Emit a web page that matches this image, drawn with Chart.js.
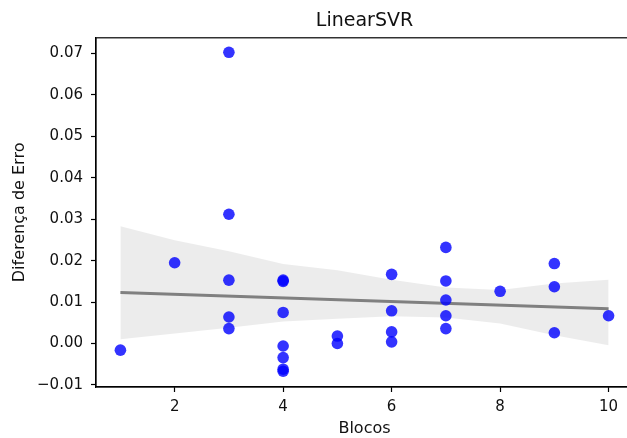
<!DOCTYPE html>
<html>
<head>
<meta charset="utf-8">
<script src="https://cdn.jsdelivr.net/npm/chart.js@4/dist/chart.umd.min.js"></script>
<style>
  html, body { margin: 0; padding: 0; background: #fff; overflow: hidden; }
  #wrap { width: 640px; height: 438px; }
</style>
</head>
<body>
<div id="wrap"><canvas id="chart" width="640" height="438"></canvas></div>
<script>
// Scatter data: number of blocks vs error difference
const blocks = [1, 2, 3, 3, 3, 3, 3, 4, 4, 4, 4, 4, 4, 4, 5, 5, 6, 6, 6, 6, 7, 7, 7, 7, 7, 8, 9, 9, 9, 10];
const errDiff = [-0.0016, 0.0195, 0.0703, 0.0312, 0.0153, 0.0064, 0.0036,
  0.0153, 0.0150, 0.0075, -0.0006, -0.0034, -0.0062, -0.0067,
  0.0018, 0.0000,
  0.0167, 0.0079, 0.0028, 0.0004,
  0.0232, 0.0151, 0.0105, 0.0067, 0.0036,
  0.0126,
  0.0193, 0.0137, 0.0026,
  0.0067];

// Regression line endpoints
const fitX = [1, 10];
const fitY = [0.0123, 0.0084];

// Confidence band
const bandX = [1, 2, 3, 4, 5, 6, 7, 8, 9, 10];
const bandUpper = [0.0283, 0.0249, 0.0223, 0.0192, 0.0177, 0.0154, 0.0135, 0.0129, 0.0145, 0.0154];
const bandLower = [0.0010, 0.0024, 0.0038, 0.0053, 0.0060, 0.0066, 0.0063, 0.0048, 0.0020, -0.0004];

// Tick labels
const xTicks = [2, 4, 6, 8, 10];
const yTicks = [-0.01, 0.00, 0.01, 0.02, 0.03, 0.04, 0.05, 0.06, 0.07];

const FONT = "'DejaVu Sans', sans-serif";
const TEXT = '#111';

const pairs = (xs, ys) => xs.map((x, i) => ({ x: x, y: ys[i] }));

// Draw the top/right spines like matplotlib
const frame = {
  id: 'frame',
  afterDatasetsDraw(chart) {
    const a = chart.chartArea;
    const ctx = chart.ctx;
    ctx.save();
    ctx.strokeStyle = '#000';
    ctx.lineWidth = 1.2;
    ctx.strokeRect(a.left, a.top, a.right - a.left, a.bottom - a.top);
    ctx.restore();
  }
};

new Chart(document.getElementById('chart'), {
  type: 'scatter',
  data: {
    datasets: [
      {
        label: 'Diferença de Erro',
        data: pairs(blocks, errDiff),
        backgroundColor: 'rgba(0, 0, 255, 0.8)',
        borderWidth: 0,
        pointRadius: 5.8,
        order: 0
      },
      {
        label: 'fit',
        data: pairs(fitX, fitY),
        showLine: true,
        borderColor: '#808080',
        borderWidth: 3,
        pointRadius: 0,
        order: 1
      },
      {
        label: 'upper',
        data: pairs(bandX, bandUpper),
        showLine: true,
        borderWidth: 0,
        pointRadius: 0,
        fill: '+1',
        backgroundColor: 'rgba(128, 128, 128, 0.15)',
        order: 2
      },
      {
        label: 'lower',
        data: pairs(bandX, bandLower),
        showLine: true,
        borderWidth: 0,
        pointRadius: 0,
        fill: false,
        order: 3
      }
    ]
  },
  options: {
    responsive: false,
    animation: false,
    layout: { padding: { left: 0, right: 7, top: 0, bottom: 0 } },
    plugins: {
      legend: { display: false },
      tooltip: { enabled: false },
      title: {
        display: true,
        text: 'LinearSVR',
        fullSize: false,
        color: TEXT,
        font: { family: FONT, size: 19, weight: 'normal' },
        padding: { top: 10, bottom: 5 }
      }
    },
    scales: {
      x: {
        type: 'linear',
        min: 0.55,
        max: 10.45,
        afterBuildTicks: (scale) => { scale.ticks = xTicks.map(v => ({ value: v })); },
        afterFit: (scale) => { scale.height = 51; },
        ticks: {
          color: TEXT,
          font: { family: FONT, size: 15 },
          padding: 6,
          maxRotation: 0,
          callback: (v) => String(v)
        },
        grid: { drawOnChartArea: false, drawTicks: true, tickLength: 5, color: '#000', tickWidth: 1.2 },
        border: { display: true, color: '#000', width: 1.2 },
        title: {
          display: true,
          text: 'Blocos',
          color: TEXT,
          font: { family: FONT, size: 16 },
          padding: { top: 4, bottom: 0 }
        }
      },
      y: {
        type: 'linear',
        min: -0.0105,
        max: 0.0738,
        afterBuildTicks: (scale) => { scale.ticks = yTicks.map(v => ({ value: v })); },
        afterFit: (scale) => { scale.width = 96; },
        ticks: {
          color: TEXT,
          font: { family: FONT, size: 15 },
          padding: 8,
          callback: (v) => v.toFixed(2).replace('-', '\u2212')
        },
        grid: { drawOnChartArea: false, drawTicks: true, tickLength: 5, color: '#000', tickWidth: 1.2 },
        border: { display: true, color: '#000', width: 1.2 },
        title: {
          display: true,
          text: 'Diferença de Erro',
          color: TEXT,
          font: { family: FONT, size: 16 },
          padding: { top: 10, bottom: 6 }
        }
      }
    }
  },
  plugins: [frame]
});
</script>
</body>
</html>
